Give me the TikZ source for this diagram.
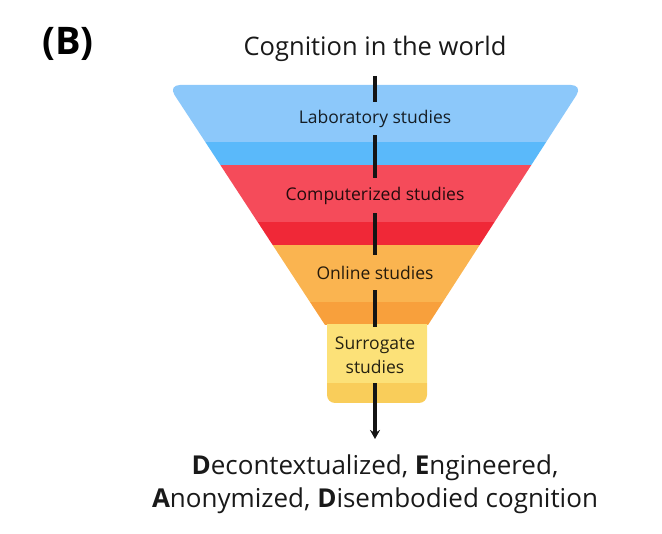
\documentclass[tikz,border=0pt]{standalone}
\usepackage{fontspec}
\setmainfont{Open Sans}
\usetikzlibrary{arrows.meta}
\definecolor{blueL}{HTML}{8CC8FA}
\definecolor{blueD}{HTML}{5AB9FA}
\definecolor{redL}{HTML}{F54B5A}
\definecolor{redD}{HTML}{F02837}
\definecolor{orangeL}{HTML}{FAB450}
\definecolor{orangeD}{HTML}{F8A03C}
\definecolor{yellowL}{HTML}{FCE178}
\definecolor{yellowD}{HTML}{F9CD5A}
\tikzset{
  lbl/.style={inner sep=0pt, align=center, text=black, text opacity=0.85,
    font=\fontsize{17.5}{24}\selectfont},
  axisline/.style={line width=3.4pt, draw=black!92},
  bigtxt/.style={font=\fontsize{26}{33}\selectfont, align=center, text=black!90}
}
\begin{document}
\begin{tikzpicture}[x=1pt,y=-1pt]
\useasboundingbox (0,0) rectangle (662,534);
% funnel
\begin{scope}
  \clip (325,325) [rounded corners=12pt]-- (168,85) -- (583,85) [sharp corners]-- (428,325) -- cycle;
  \fill[blueL]   (150,80) rectangle (600,142);
  \fill[blueD]   (150,142) rectangle (600,165);
  \fill[redL]    (150,165) rectangle (600,222);
  \fill[redD]    (150,222) rectangle (600,245);
  \fill[orangeL] (150,245) rectangle (600,302);
  \fill[orangeD] (150,302) rectangle (600,326);
\end{scope}
\begin{scope}
  \clip (327,320) [rounded corners=8pt]-- (327,403) -- (427,403) [sharp corners]-- (427,320) -- cycle;
  \fill[yellowL] (320,324.5) rectangle (430,383);
  \fill[yellowD] (320,383) rectangle (430,410);
\end{scope}
% texts
\node[font=\bfseries\fontsize{38}{40}\selectfont, inner sep=0pt] (B) at (68,44) {(B)};
\node[bigtxt, font=\fontsize{25.5}{33}\selectfont, inner sep=0pt] (top) at (375,49) {Cognition in the world};
\node[lbl, minimum height=33pt] (lab) at (375,118.5) {Laboratory studies};
\node[lbl, minimum height=35pt] (comp) at (375,195.5) {Computerized studies};
\node[lbl, minimum height=35pt] (onl) at (375,272.5) {Online studies};
\node[lbl, minimum height=56pt] (sur) at (375,355) {Surrogate\\studies};
\coordinate (tip) at (375,439);
\node[bigtxt] (res) at (375,484.5) {\textbf{D}econtextualized, \textbf{E}ngineered,\\\textbf{A}nonymized, \textbf{D}isembodied cognition};
% axis
\draw[axisline, shorten <=14pt] (top.south) -- (lab.north);
\draw[axisline] (lab.south) -- (comp.north);
\draw[axisline] (comp.south) -- (onl.north);
\draw[axisline] (onl.south) -- (sur.north);
\draw[axisline, -{Stealth[length=9pt,width=10pt]}] (sur.south) -- (tip);
\end{tikzpicture}
\end{document}
